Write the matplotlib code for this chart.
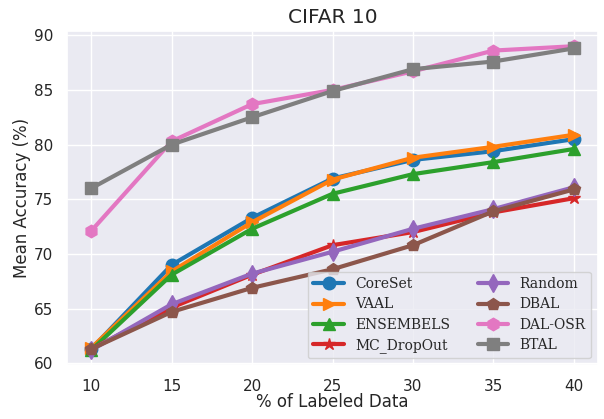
import matplotlib
matplotlib.use('Agg')
import matplotlib.pyplot as plt
import seaborn as sns

labeled = [10, 15, 20, 25, 30, 35, 40]

coreset = [61.3, 69.0, 73.3, 76.9, 78.6, 79.4, 80.5]
vaal = [61.4, 68.4, 72.9, 76.8, 78.8, 79.8, 80.9]
ensembels = [61.2, 68.1, 72.3, 75.5, 77.3, 78.4, 79.6]
mc_dropout = [61.3, 65.1, 68.1, 70.8, 72.0, 73.8, 75.1]
random_ = [61.2, 65.4, 68.2, 70.2, 72.3, 74.1, 76.1]
dbal = [61.3, 64.7, 66.9, 68.6, 70.8, 73.9, 75.9]
dal_osr = [72.1, 80.3, 83.7, 85.0, 86.7, 88.6, 89.0]
btal = [76.0, 80.0, 82.5, 84.9, 86.9, 87.6, 88.8]

series = [
    ('CoreSet', coreset, 'o'),
    ('VAAL', vaal, '>'),
    ('ENSEMBELS', ensembels, '^'),
    ('MC_DropOut', mc_dropout, '*'),
    ('Random', random_, 'd'),
    ('DBAL', dbal, 'p'),
    ('DAL-OSR', dal_osr, 'h'),
    ('BTAL', btal, 's'),
]

sns.set_theme(style='darkgrid')
plt.rcParams['font.family'] = ['DejaVu Sans']

fig, ax = plt.subplots(figsize=(6.04, 4.19), dpi=100)
colors = sns.color_palette('tab10')

for i, (name, vals, mk) in enumerate(series):
    ax.plot(labeled, vals, marker=mk, markersize=9, linewidth=3,
            color=colors[i], label=name)

ax.set_title('CIFAR 10', fontsize=14.5)
ax.set_xlabel('% of Labeled Data', fontsize=12, labelpad=-1)
ax.set_ylabel('Mean Accuracy (%)', fontsize=12, labelpad=2)
ax.set_xticks(labeled)
ax.set_yticks([60, 65, 70, 75, 80, 85, 90])
ax.tick_params(labelsize=11, pad=4)
ax.legend(ncol=2, loc='lower right', prop={'family': 'DejaVu Serif', 'size': 10},
          handlelength=2.2, labelspacing=0.45)

fig.subplots_adjust(left=0.111, right=0.99, top=0.926, bottom=0.128)
fig.savefig('out.png', dpi=100)
